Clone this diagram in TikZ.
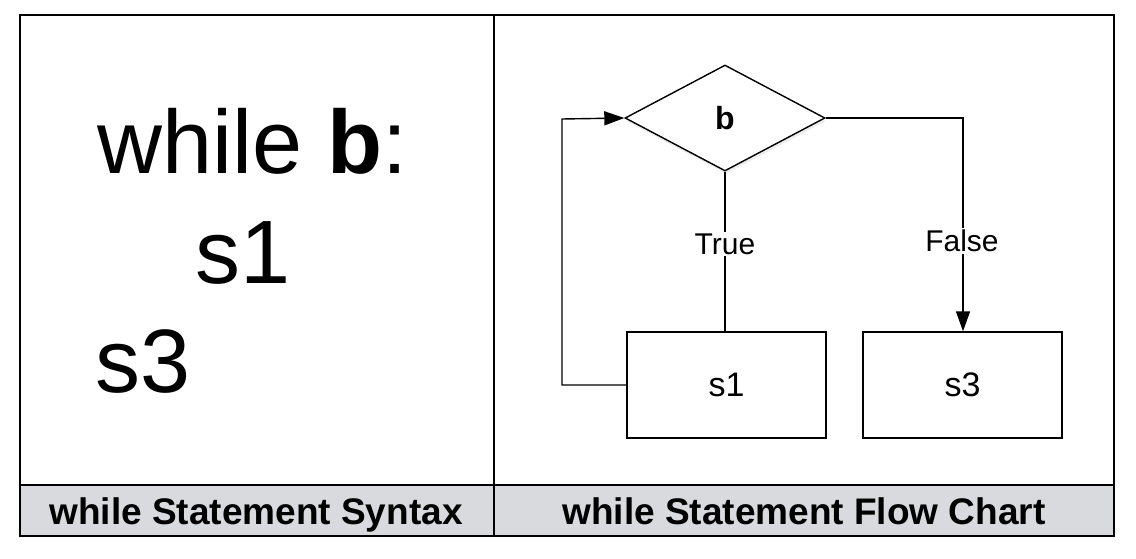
\documentclass[tikz,border=0pt]{standalone}
\usepackage{fontspec}
\setmainfont{Liberation Sans}
\usetikzlibrary{shapes.geometric,arrows.meta,shadows}
\begin{document}
\begin{tikzpicture}[x=1pt,y=-1pt,
  box/.style={draw,line width=1.4pt,minimum width=199pt,minimum height=106pt,inner sep=0pt,font=\fontsize{34}{34}\selectfont},
  dec/.style={draw,diamond,line width=1.4pt,minimum width=200pt,minimum height=106pt,inner sep=0pt,fill=white,
     drop shadow={opacity=0.15,shadow xshift=1pt,shadow yshift=-3pt},font=\bfseries\fontsize{32}{32}\selectfont},
  lbl/.style={fill=white,inner sep=2pt,font=\fontsize{30}{30}\selectfont},
  conn/.style={line width=1.4pt},
  arr/.style={conn,-{Triangle[length=20pt,width=14pt]}},
  big/.style={anchor=base west,inner sep=0pt,font=\fontsize{90}{90}\selectfont},
  captext/.style={anchor=base,font=\bfseries\fontsize{37}{37}\selectfont,inner sep=0pt}
]
\useasboundingbox (0,0) rectangle (1136,558);
% caption band
\fill[fill={rgb,255:red,217;green,218;blue,222}] (20,485) rectangle (1114,536);
\draw[line width=2pt] (20,485) -- (1114,485);
\draw[line width=2pt] (20,15) rectangle (1114,536);
\draw[line width=2pt] (494,15) -- (494,536);
\node[captext] (capl) at (256,524) {while Statement Syntax};
\node[captext] (capr) at (804,524) {while Statement Flow Chart};
% left syntax
\node[big] (w) at (97,173) {while \textbf{b}:};
\node[big] (ls1) at (195,283) {s1};
\node[big] (ls3) at (95,392) {s3};
% flow chart
\node[dec] (b) at (725,118) {b};
\node[box] (s1) at (726.5,385) {s1};
\node[box] (s3) at (962.5,385) {s3};
\coordinate (lc1) at (562,385);
\coordinate (lc2) at (562,119);
\coordinate (rc) at (963,118);
\draw[conn] (b.south) -- (b.south |- s1.north);
\node[lbl] (true) at (725,244) {True};
\draw[arr] (s1.west) -- (lc1) -- (lc2) -- (b.west);
\draw[arr] (b.east) -- (rc) -- (rc |- s3.north);
\node[lbl] (false) at (962,241) {False};
\end{tikzpicture}
\end{document}
